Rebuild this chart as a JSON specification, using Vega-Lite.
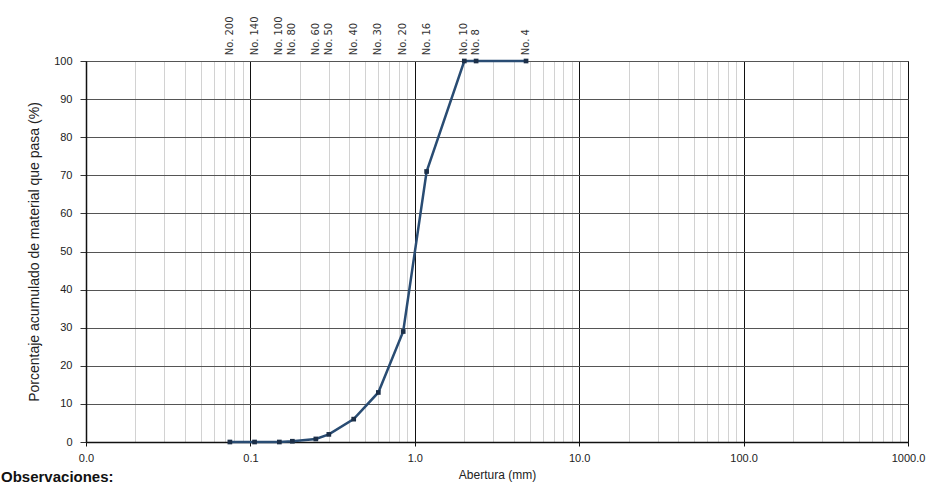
{
  "$schema": "https://vega.github.io/schema/vega-lite/v6.json",
  "width": 822,
  "height": 381,
  "autosize": {"type": "none"},
  "padding": {"left": 86, "top": 61, "right": 31, "bottom": 42},
  "background": "white",
  "config": {
    "view": {"stroke": "#333", "strokeWidth": 1},
    "font": "Liberation Sans"
  },
  "datasets": {
    "sieves": [
      {"sieve": "No. 200", "size": 0.075, "pass": 0},
      {"sieve": "No. 140", "size": 0.106, "pass": 0},
      {"sieve": "No. 100", "size": 0.15, "pass": 0},
      {"sieve": "No. 80", "size": 0.18, "pass": 0.2},
      {"sieve": "No. 60", "size": 0.25, "pass": 0.8},
      {"sieve": "No. 50", "size": 0.3, "pass": 2},
      {"sieve": "No. 40", "size": 0.425, "pass": 6},
      {"sieve": "No. 30", "size": 0.6, "pass": 13},
      {"sieve": "No. 20", "size": 0.85, "pass": 29},
      {"sieve": "No. 16", "size": 1.18, "pass": 71},
      {"sieve": "No. 10", "size": 2.0, "pass": 100},
      {"sieve": "No. 8", "size": 2.36, "pass": 100},
      {"sieve": "No. 4", "size": 4.75, "pass": 100}
    ],
    "obs": [{"t": "Observaciones:"}]
  },
  "layer": [
    {
      "data": {"name": "sieves"},
      "encoding": {
        "x": {
          "field": "size",
          "type": "quantitative",
          "scale": {"type": "log", "domain": [0.01, 1000]},
          "axis": {
            "title": "Abertura (mm)",
            "titleFont": "Liberation Sans",
            "titleFontSize": 12,
            "titleFontWeight": "normal",
            "titleColor": "#222",
            "titlePadding": 6,
            "values": [0.01,0.02,0.03,0.04,0.05,0.06,0.07,0.08,0.09,0.1,0.2,0.3,0.4,0.5,0.6,0.7,0.8,0.9,1,2,3,4,5,6,7,8,9,10,20,30,40,50,60,70,80,90,100,200,300,400,500,600,700,800,900,1000],
            "labelExpr": "abs(log(datum.value)/LN10 - round(log(datum.value)/LN10)) < 0.01 ? format(datum.value, '.1f') : ''",
            "labelFontSize": 11,
            "labelColor": "#222",
            "labelPadding": 6,
            "labelFlush": false,
            "labelOverlap": false,
            "grid": true,
            "gridColor": {"condition": {"test": "abs(log(datum.value)/LN10 - round(log(datum.value)/LN10)) < 0.01", "value": "#111"}, "value": "#d2d2d2"},
            "gridWidth": 1,
            "tickColor": {"condition": {"test": "abs(log(datum.value)/LN10 - round(log(datum.value)/LN10)) < 0.01", "value": "#111"}, "value": "transparent"},
            "tickSize": 4,
            "domainColor": "#111",
            "domainWidth": 1.5
          }
        },
        "y": {
          "field": "pass",
          "type": "quantitative",
          "scale": {"domain": [0, 100]},
          "axis": {
            "title": "Porcentaje acumulado de material que pasa (%)",
            "titleFont": "Liberation Sans",
            "titleFontSize": 14,
            "titleFontWeight": "normal",
            "titleColor": "#222",
            "titlePadding": 12,
            "values": [0,10,20,30,40,50,60,70,80,90,100],
            "labelFontSize": 11,
            "labelColor": "#222",
            "labelPadding": 8,
            "labelOverlap": false,
            "grid": true,
            "gridColor": "#555",
            "gridWidth": 1,
            "tickColor": "#333",
            "tickSize": 6,
            "domainColor": "#111",
            "domainWidth": 1.5
          }
        }
      },
      "layer": [
        {
          "mark": {"type": "line", "color": "#294c73", "strokeWidth": 2.5}
        },
        {
          "mark": {"type": "point", "filled": true, "shape": "square", "size": 22, "color": "#1c2f48", "opacity": 1}
        },
        {
          "mark": {"type": "text", "angle": 270, "align": "left", "baseline": "middle", "font": "DejaVu Sans", "fontSize": 10, "color": "#333"},
          "encoding": {
            "y": {"datum": 101.5},
            "text": {"field": "sieve"}
          }
        }
      ]
    },
    {
      "data": {"name": "obs"},
      "mark": {"type": "text", "align": "left", "baseline": "alphabetic", "fontSize": 15, "fontWeight": "bold", "color": "#111", "dx": -85, "dy": 40},
      "encoding": {
        "x": {
          "datum": 0.01,
          "type": "quantitative",
          "axis": {
            "title": "Abertura (mm)",
            "titleFont": "Liberation Sans",
            "titleFontSize": 12,
            "titleFontWeight": "normal",
            "titleColor": "#222",
            "titlePadding": 6,
            "values": [0.01,0.02,0.03,0.04,0.05,0.06,0.07,0.08,0.09,0.1,0.2,0.3,0.4,0.5,0.6,0.7,0.8,0.9,1,2,3,4,5,6,7,8,9,10,20,30,40,50,60,70,80,90,100,200,300,400,500,600,700,800,900,1000],
            "labelExpr": "abs(log(datum.value)/LN10 - round(log(datum.value)/LN10)) < 0.01 ? format(datum.value, '.1f') : ''",
            "labelFontSize": 11,
            "labelColor": "#222",
            "labelPadding": 6,
            "labelFlush": false,
            "labelOverlap": false,
            "grid": true,
            "gridColor": {"condition": {"test": "abs(log(datum.value)/LN10 - round(log(datum.value)/LN10)) < 0.01", "value": "#111"}, "value": "#d2d2d2"},
            "gridWidth": 1,
            "tickColor": {"condition": {"test": "abs(log(datum.value)/LN10 - round(log(datum.value)/LN10)) < 0.01", "value": "#111"}, "value": "transparent"},
            "tickSize": 4,
            "domainColor": "#111",
            "domainWidth": 1.5
          }
        },
        "y": {
          "datum": 0,
          "type": "quantitative",
          "axis": {
            "title": "Porcentaje acumulado de material que pasa (%)",
            "titleFont": "Liberation Sans",
            "titleFontSize": 14,
            "titleFontWeight": "normal",
            "titleColor": "#222",
            "titlePadding": 12,
            "values": [0,10,20,30,40,50,60,70,80,90,100],
            "labelFontSize": 11,
            "labelColor": "#222",
            "labelPadding": 8,
            "labelOverlap": false,
            "grid": true,
            "gridColor": "#555",
            "gridWidth": 1,
            "tickColor": "#333",
            "tickSize": 6,
            "domainColor": "#111",
            "domainWidth": 1.5
          }
        },
        "text": {"field": "t", "type": "nominal"}
      }
    }
  ]
}
